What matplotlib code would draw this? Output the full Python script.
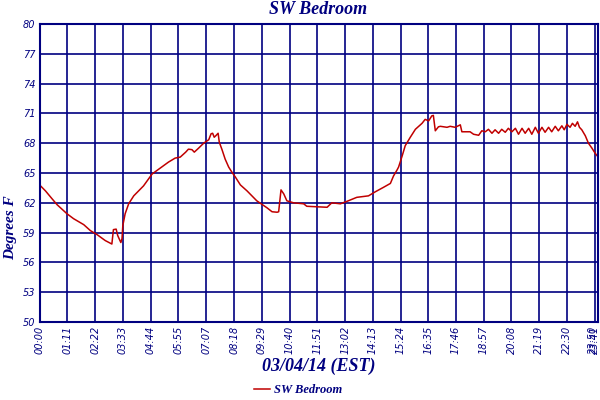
import matplotlib
matplotlib.use("Agg")
import matplotlib.pyplot as plt

# minutes after midnight, temperature (deg F)
minutes = [0, 15, 32, 45, 70, 87, 113, 130, 147, 168, 185, 189, 196, 200, 208, 211,
           213, 219, 228, 241, 266, 288, 309, 330, 347, 360, 374, 381, 390, 396, 407,
           420, 433, 439, 443, 447, 451, 457, 460, 467, 475, 484, 492, 501, 514, 531,
           556, 582, 595, 608, 612, 618, 625, 633, 650, 676, 684, 736, 748, 770, 787,
           812, 842, 859, 880, 898, 906, 915, 919, 928, 936, 949, 962, 979, 987, 996,
           1004, 1008, 1013, 1021, 1026, 1043, 1051, 1064, 1077, 1081, 1102, 1111,
           1124, 1132, 1141, 1149, 1158, 1166, 1175, 1183, 1192, 1200, 1209, 1218,
           1226, 1235, 1243, 1252, 1260, 1269, 1277, 1286, 1294, 1303, 1311, 1320,
           1328, 1337, 1343, 1350, 1358, 1364, 1371, 1377, 1382, 1388, 1397, 1405,
           1414, 1422, 1430]
temps = [63.8, 63.2, 62.4, 61.8, 60.9, 60.4, 59.8, 59.2, 58.8, 58.2, 57.85, 59.3, 59.35,
         58.7, 58.0, 58.4, 59.7, 60.9, 61.9, 62.7, 63.7, 64.9, 65.5, 66.1, 66.5, 66.6,
         67.1, 67.4, 67.35, 67.1, 67.5, 68.0, 68.35, 68.95, 69.0, 68.6, 68.75, 69.0,
         68.1, 67.35, 66.4, 65.6, 65.1, 64.6, 63.8, 63.2, 62.2, 61.5, 61.1, 61.05, 61.1,
         63.3, 62.9, 62.2, 62.0, 61.9, 61.65, 61.55, 62.0, 61.9, 62.15, 62.55, 62.7,
         63.1, 63.55, 63.95, 64.7, 65.3, 65.6, 66.7, 67.75, 68.6, 69.4, 70.0, 70.4,
         70.25, 70.75, 70.8, 69.25, 69.65, 69.7, 69.6, 69.7, 69.6, 69.85, 69.15, 69.15,
         68.9, 68.8, 69.25, 69.15, 69.4, 69.0, 69.35, 69.0, 69.4, 69.1, 69.5, 69.15,
         69.5, 68.9, 69.5, 69.0, 69.5, 68.9, 69.6, 69.0, 69.6, 69.1, 69.6, 69.15, 69.7,
         69.25, 69.75, 69.35, 69.9, 69.6, 70.0, 69.7, 70.15, 69.6, 69.35, 68.75, 68.0,
         67.5, 67.0, 66.6]

xtick_labels = ["00:00", "01:11", "02:22", "03:33", "04:44", "05:55", "07:07", "08:18",
                "09:29", "10:40", "11:51", "13:02", "14:13", "15:24", "16:35", "17:46",
                "18:57", "20:08", "21:19", "22:30", "23:41", "23:50"]
yticks = [50, 53, 56, 59, 62, 65, 68, 71, 74, 77, 80]

navy = "#000080"


def to_min(s):
    h, m = s.split(":")
    return int(h) * 60 + int(m)


xticks = [to_min(s) for s in xtick_labels]

fig = plt.figure(figsize=(6, 4), dpi=100)
ax = fig.add_axes([0.066, 0.195, 0.931, 0.745])

ax.plot(minutes, temps, color="#C00000", lw=1.1, label="SW Bedroom")

ax.set_xlim(xticks[0], xticks[-1])
ax.set_ylim(50, 80)
ax.set_xticks(xticks)
ax.set_xticklabels(xtick_labels, rotation=90)
ax.set_yticks(yticks)
ax.grid(True, color=navy, lw=1.2)
for sp in ax.spines.values():
    sp.set_color(navy)
    sp.set_linewidth(1.5)
ax.tick_params(length=0, pad=3, labelcolor=navy, labelsize=7)
for lab in ax.get_xticklabels() + ax.get_yticklabels():
    lab.set_fontstyle("italic")
# last label sits on the right border, keep it inside the picture
ax.get_xticklabels()[-1].set_horizontalalignment("right")

serif = dict(family="Liberation Serif", weight="bold", style="italic", color=navy)
fig.text(0.53, 0.975, "SW Bedroom", ha="center", va="center", fontsize=13, **serif)
fig.text(0.018, 0.43, "Degrees F", ha="center", va="center", rotation=90,
         fontsize=11, **serif)
fig.text(0.532, 0.085, "03/04/14 (EST)", ha="center", va="center", fontsize=13, **serif)

leg = fig.legend(loc="center", bbox_to_anchor=(0.497, 0.025), frameon=False,
                 handlelength=1.3, handletextpad=0.3,
                 prop=dict(family="Liberation Serif", weight="bold", style="italic", size=9))
for t in leg.get_texts():
    t.set_color(navy)

fig.savefig("out.png", dpi=100)
